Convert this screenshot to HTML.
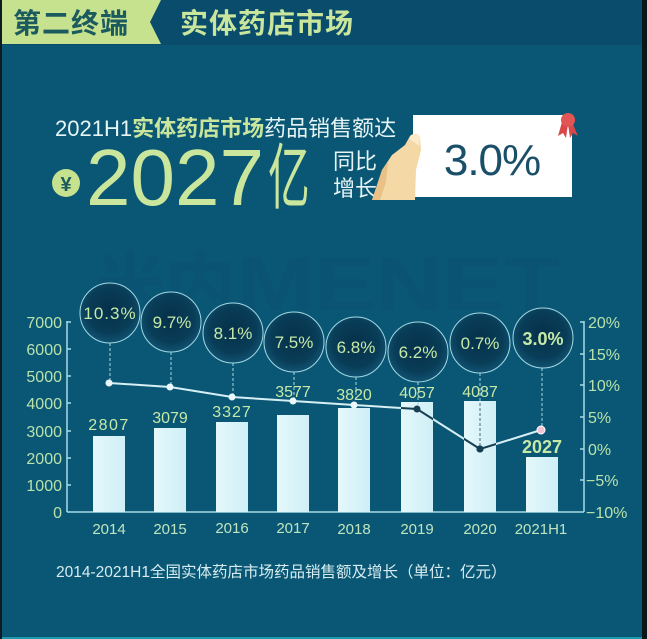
<!DOCTYPE html>
<html><head><meta charset="utf-8"><style>
html,body{margin:0;padding:0;background:#0a5775;}
svg{display:block;}
text{font-family:"Liberation Sans","Noto Sans CJK SC",sans-serif;}
</style></head><body>
<svg width="647" height="639" viewBox="0 0 647 639" xmlns="http://www.w3.org/2000/svg">
<defs>
<radialGradient id="cg" cx="50%" cy="45%" r="55%">
<stop offset="0%" stop-color="#05304a"/>
<stop offset="70%" stop-color="#093d57"/>
<stop offset="100%" stop-color="#105372"/>
</radialGradient>
<linearGradient id="bg" x1="0" y1="0" x2="1" y2="0">
<stop offset="0" stop-color="#e4f8fb"/>
<stop offset="1" stop-color="#cfeff6"/>
</linearGradient>
<clipPath id="bars">
<rect x="93" y="436" width="32" height="76"/>
<rect x="154" y="428" width="32" height="84"/>
<rect x="216" y="422" width="32" height="90"/>
<rect x="277" y="415" width="32" height="97"/>
<rect x="338" y="408" width="32" height="104"/>
<rect x="401" y="402" width="32" height="110"/>
<rect x="464" y="401" width="32" height="111"/>
<rect x="526" y="457" width="32" height="55"/>
</clipPath>
</defs>
<rect x="0" y="0" width="647" height="639" fill="#0a5775"/>
<!-- header -->
<rect x="0" y="0" width="647" height="45" fill="#094c6c"/>
<polygon points="0,0 161,0 150,22 161,44 0,44" fill="#c6e28e"/>
<text x="13" y="33" font-size="28" font-weight="bold" fill="#1b5a5e" letter-spacing="1">第二终端</text>
<text x="180" y="33" font-size="28" font-weight="bold" fill="#c9e69c" letter-spacing="1">实体药店市场</text>

<!-- watermark -->
<text x="237" y="310" font-size="76" font-weight="bold" fill="#0a5372" textLength="323" lengthAdjust="spacingAndGlyphs">MENET</text>
<text x="95" y="310" font-size="70" font-weight="bold" fill="#0a5372">米内</text>

<!-- headline -->
<text x="55" y="136" font-size="22" fill="#e6f4f4">2021H1<tspan fill="#c9e69c" font-weight="bold">实体药店市场</tspan>药品销售额达</text>
<circle cx="66" cy="183" r="14" fill="#c6e28e"/>
<text x="66" y="191" font-size="20" fill="#1b5a5e" text-anchor="middle" font-weight="bold">¥</text>
<text x="86" y="205" font-size="80" fill="#c9e69c">2027</text>
<text transform="translate(268,203) scale(0.58,1)" font-size="72" fill="#c9e69c">亿</text>
<text x="333" y="169" font-size="22" fill="#e6f4f4">同比</text>
<text x="333" y="196" font-size="22" fill="#e6f4f4">增长</text>

<!-- card -->
<rect x="413" y="115" width="159" height="82" fill="#ffffff"/>
<text x="492" y="175" font-size="44" fill="#1a4f6a" text-anchor="middle" letter-spacing="-1">3.0%</text>
<polygon points="562,122 558,136 563,133 566,138 568,124" fill="#d84848"/>
<polygon points="572,122 578,136 573,133 570,138 568,124" fill="#d84848"/>
<circle cx="568" cy="120" r="7" fill="#e25555"/>
<!-- hand -->
<path d="M372,200 L382,170 L392,155 L405,145 L410,136 Q416,131 420,137 L421,150 L416,170 L415,200 Z" fill="#f4d8a6"/>
<path d="M410,136 Q416,131 420,137 L419,146 Q414,142 410,140 Z" fill="#fbe9c8"/>
<path d="M372,200 L382,170 L388,162 L386,182 L380,200 Z" fill="#e9c186"/>

<!-- axes -->
<g stroke="#a8dce6" stroke-width="1.5" fill="none">
<line x1="67" y1="321" x2="67" y2="512"/>
<line x1="584" y1="321" x2="584" y2="512"/>
<line x1="67" y1="512" x2="584" y2="512"/>
<line x1="67" y1="322" x2="71" y2="322"/>
<line x1="67" y1="349" x2="71" y2="349"/>
<line x1="67" y1="376" x2="71" y2="376"/>
<line x1="67" y1="403" x2="71" y2="403"/>
<line x1="67" y1="431" x2="71" y2="431"/>
<line x1="67" y1="458" x2="71" y2="458"/>
<line x1="67" y1="485" x2="71" y2="485"/>
<line x1="580" y1="322" x2="584" y2="322"/>
<line x1="580" y1="354" x2="584" y2="354"/>
<line x1="580" y1="385" x2="584" y2="385"/>
<line x1="580" y1="417" x2="584" y2="417"/>
<line x1="580" y1="449" x2="584" y2="449"/>
<line x1="580" y1="480" x2="584" y2="480"/>
</g>
<g font-size="16" fill="#b9e2ab" text-anchor="end">
<text x="62" y="328">7000</text>
<text x="62" y="355">6000</text>
<text x="62" y="382">5000</text>
<text x="62" y="409">4000</text>
<text x="62" y="437">3000</text>
<text x="62" y="464">2000</text>
<text x="62" y="491">1000</text>
<text x="62" y="518">0</text>
</g>
<g font-size="16" fill="#b9e2ab">
<text x="588" y="328">20%</text>
<text x="588" y="360">15%</text>
<text x="588" y="391">10%</text>
<text x="588" y="423">5%</text>
<text x="588" y="455">0%</text>
<text x="586" y="486">−5%</text>
<text x="586" y="518">−10%</text>
</g>

<!-- bars -->
<g fill="url(#bg)">
<rect x="93" y="436" width="32" height="76"/>
<rect x="154" y="428" width="32" height="84"/>
<rect x="216" y="422" width="32" height="90"/>
<rect x="277" y="415" width="32" height="97"/>
<rect x="338" y="408" width="32" height="104"/>
<rect x="401" y="402" width="32" height="110"/>
<rect x="464" y="401" width="32" height="111"/>
<rect x="526" y="457" width="32" height="55"/>
</g>
<g font-size="16" fill="#c6e9a8" text-anchor="middle">
<text x="109" y="430" letter-spacing="1.5">2807</text>
<text x="170" y="423">3079</text>
<text x="232" y="417" letter-spacing="1">3327</text>
<text x="293" y="397">3577</text>
<text x="354" y="400">3820</text>
<text x="417" y="398">4057</text>
<text x="480" y="397">4087</text>
<text x="542" y="453" font-size="18" font-weight="bold">2027</text>
</g>

<!-- dashed lines -->
<g stroke="#a8d8e2" stroke-width="1" stroke-dasharray="3,2" fill="none">
<line x1="110" y1="343" x2="110" y2="383"/>
<line x1="171" y1="352" x2="171" y2="387"/>
<line x1="233" y1="363" x2="233" y2="397"/>
<line x1="294" y1="372" x2="294" y2="401"/>
<line x1="356" y1="377" x2="356" y2="405"/>
<line x1="418" y1="382" x2="418" y2="409"/>
<line x1="480" y1="373" x2="480" y2="449"/>
<line x1="542" y1="368" x2="542" y2="430"/>
</g>
<!-- line -->
<polyline points="109,383 170,387 232,397 293,401 354,405 417,409 480,449 541,430" fill="none" stroke="#d6eff4" stroke-width="2"/>
<g fill="#eaf8fb">
<circle cx="109" cy="383" r="3.5"/>
<circle cx="170" cy="387" r="3.5"/>
<circle cx="232" cy="397" r="3.5"/>
<circle cx="293" cy="401" r="3.5"/>
<circle cx="354" cy="405" r="3.5"/>
</g>
<circle cx="541" cy="430" r="4" fill="#f2c4d6" stroke="#ffffff" stroke-width="1"/>
<!-- dark overlay over bars -->
<g clip-path="url(#bars)">
<polyline points="109,383 170,387 232,397 293,401 354,405 417,409 480,449 541,430" fill="none" stroke="#173f52" stroke-width="2"/>
<line x1="480" y1="373" x2="480" y2="449" stroke="#3d6878" stroke-width="1" stroke-dasharray="3,2"/>
<circle cx="417" cy="409" r="3.5" fill="#173f52"/>
<circle cx="480" cy="449" r="3.5" fill="#173f52"/>
</g>
<circle cx="480" cy="449" r="3.5" fill="#173f52"/>

<!-- circles -->
<g stroke="#a3d8e3" stroke-width="1" fill="url(#cg)">
<circle cx="110" cy="313" r="30"/>
<circle cx="171" cy="322" r="30"/>
<circle cx="233" cy="333" r="30"/>
<circle cx="294" cy="342" r="30"/>
<circle cx="356" cy="347" r="30"/>
<circle cx="418" cy="352" r="30"/>
<circle cx="480" cy="343" r="30"/>
<circle cx="543" cy="338" r="30"/>
</g>
<g font-size="17" fill="#c6e9a8" text-anchor="middle">
<text x="110" y="319" letter-spacing="1">10.3%</text>
<text x="172" y="328">9.7%</text>
<text x="233" y="339">8.1%</text>
<text x="294" y="348">7.5%</text>
<text x="356" y="353">6.8%</text>
<text x="418" y="358">6.2%</text>
<text x="480" y="349">0.7%</text>
<text x="543" y="345" font-weight="bold" font-size="18">3.0%</text>
</g>

<!-- year labels -->
<g font-size="15" fill="#bfe5bf" text-anchor="middle">
<text x="109" y="534">2014</text>
<text x="170" y="534">2015</text>
<text x="232" y="533">2016</text>
<text x="293" y="533">2017</text>
<text x="354" y="534">2018</text>
<text x="417" y="534">2019</text>
<text x="480" y="534">2020</text>
<text x="541" y="534">2021H1</text>
</g>

<text x="56" y="577" font-size="15.5" fill="#d6ecf0">2014-2021H1全国实体药店市场药品销售额及增长（单位：亿元）</text>

<!-- edges -->
<rect x="0" y="0" width="2" height="639" fill="#0b1c22"/>
<rect x="642" y="0" width="5" height="639" fill="#0b1618"/>
<rect x="2" y="637" width="640" height="2" fill="#1f98ad"/>
</svg>
</body></html>
